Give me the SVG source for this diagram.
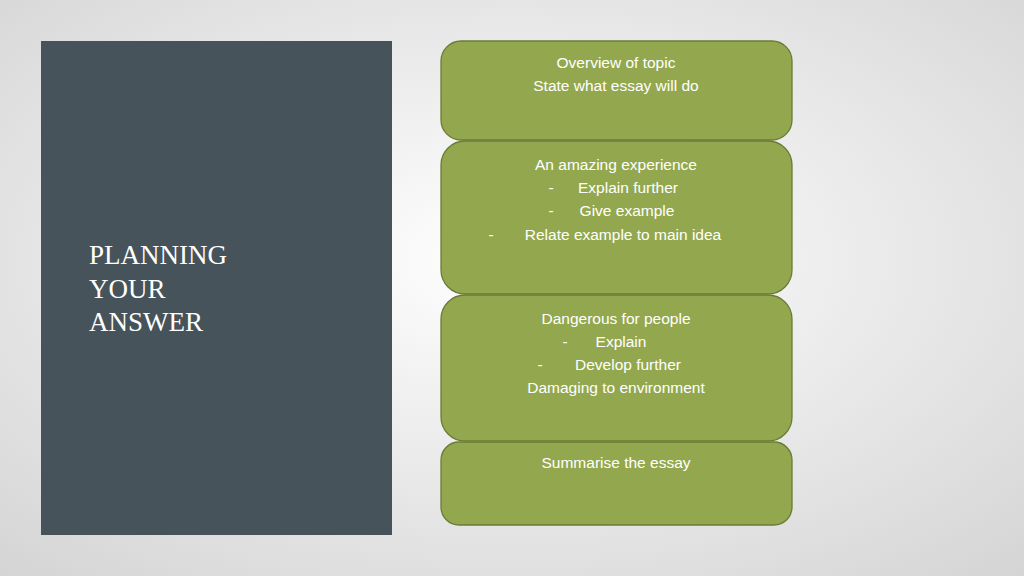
<svg xmlns="http://www.w3.org/2000/svg" width="1024" height="576" viewBox="0 0 1024 576">
<defs>
<radialGradient id="bg" cx="0.5" cy="0.45" r="0.75">
<stop offset="0" stop-color="#ffffff"/><stop offset="1" stop-color="#d4d4d4"/>
</radialGradient>
<style>
.box{fill:#93a84e;stroke:#6b7b35;stroke-width:1.3}
.t{font-family:"Liberation Sans",Arial,sans-serif;font-size:15.5px;fill:#ffffff;text-anchor:middle}
.h{font-family:"Liberation Serif","Times New Roman",serif;font-size:27px;fill:#ffffff}
</style>
</defs>
<rect width="1024" height="576" fill="url(#bg)"/>
<g id="panel">
<rect x="41" y="41" width="351" height="494" fill="#47535a"/>
<text class="h" x="89" y="264">PLANNING</text>
<text class="h" x="89" y="298">YOUR</text>
<text class="h" x="89" y="331">ANSWER</text>
</g>
<g id="box1">
<rect class="box" x="441" y="41" width="351" height="99" rx="20"/>
<text class="t" x="616" y="68">Overview of topic</text>
<text class="t" x="616" y="91">State what essay will do</text>
</g>
<g id="box2">
<rect class="box" x="441" y="141" width="351" height="153" rx="24"/>
<text class="t" x="616" y="170">An amazing experience</text>
<text class="t" x="551" y="193">-</text><text class="t" x="628" y="193">Explain further</text>
<text class="t" x="551" y="216">-</text><text class="t" x="627" y="216">Give example</text>
<text class="t" x="491" y="240">-</text><text class="t" x="623" y="240">Relate example to main idea</text>
</g>
<g id="box3">
<rect class="box" x="441" y="295" width="351" height="146" rx="24"/>
<text class="t" x="616" y="324">Dangerous for people</text>
<text class="t" x="565" y="347">-</text><text class="t" x="621" y="347">Explain</text>
<text class="t" x="540" y="370">-</text><text class="t" x="628" y="370">Develop further</text>
<text class="t" x="616" y="393">Damaging to environment</text>
</g>
<g id="box4">
<rect class="box" x="441" y="442" width="351" height="83" rx="18"/>
<text class="t" x="616" y="468">Summarise the essay</text>
</g>
<g id="connectors"/>
</svg>
